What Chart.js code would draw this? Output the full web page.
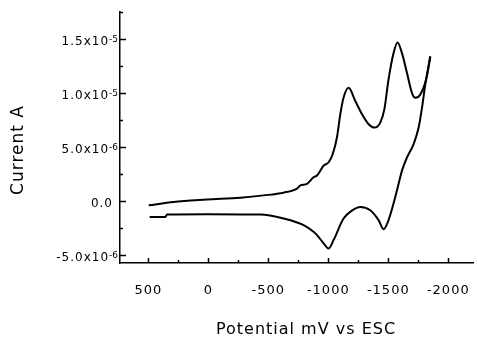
<!DOCTYPE html>
<html>
<head>
<meta charset="utf-8">
<script src="https://cdn.jsdelivr.net/npm/chart.js@4.4.1/dist/chart.umd.min.js"></script>
<style>
  html, body { margin: 0; padding: 0; background: #fff; }
</style>
</head>
<body>
<canvas id="cv" width="478" height="343"></canvas>
<script>
// Forward scan (upper branch): potential in mV, current in A
const forwardPotential = [497, 289, 11, -267, -461, -627, -739, -767, -822, -877, -906, -961, -1003, -1037, -1072, -1100, -1127, -1169, -1225, -1281, -1336, -1386, -1433, -1467, -1502, -1544, -1577, -1614, -1656, -1697, -1725, -1767, -1822, -1850];
const forwardCurrent = [-0.37e-6, -0.06e-6, 0.16e-6, 0.34e-6, 0.55e-6, 0.80e-6, 1.17e-6, 1.47e-6, 1.62e-6, 2.23e-6, 2.39e-6, 3.30e-6, 3.61e-6, 4.38e-6, 5.90e-6, 8.05e-6, 9.57e-6, 10.49e-6, 9.27e-6, 8.05e-6, 7.13e-6, 6.82e-6, 7.28e-6, 8.50e-6, 11.26e-6, 13.70e-6, 14.68e-6, 13.70e-6, 11.86e-6, 10.03e-6, 9.57e-6, 9.88e-6, 11.56e-6, 13.39e-6];

// Reverse scan (lower branch)
const reversePotential = [-1850, -1808, -1781, -1753, -1711, -1656, -1614, -1586, -1558, -1502, -1461, -1419, -1350, -1267, -1200, -1127, -1044, -1002, -961, -906, -877, -794, -627, -433, 11, 344, 358, 489];
const reverseCurrent = [13.39e-6, 10.80e-6, 8.65e-6, 6.82e-6, 5.29e-6, 4.06e-6, 2.84e-6, 1.62e-6, 0.39e-6, -1.74e-6, -2.57e-6, -1.74e-6, -0.83e-6, -0.52e-6, -0.83e-6, -1.59e-6, -3.58e-6, -4.36e-6, -3.88e-6, -3.12e-6, -2.82e-6, -2.20e-6, -1.59e-6, -1.22e-6, -1.19e-6, -1.22e-6, -1.44e-6, -1.44e-6];

// Axis ticks
const xTickValues = [500, 0, -500, -1000, -1500, -2000];
const yTickValues = [-5e-6, 0, 5e-6, 1e-5, 1.5e-5];
const yTickLabels = ['-5.0x10', '0.0', '5.0x10', '1.0x10', '1.5x10'];
const yTickExponents = ['-6', '', '-6', '-5', '-5'];

const xTitle = 'Potential mV vs ESC';
const yTitle = 'Current A';

const forwardPts = forwardPotential.map((v, i) => ({ x: v, y: forwardCurrent[i] }));
const reversePts = reversePotential.map((v, i) => ({ x: v, y: reverseCurrent[i] }));

function isMajorY(v) {
  return yTickValues.some(t => Math.abs(t - v) < 1e-9);
}

// Draws the inward tick marks, the y labels with exponents and the axis titles
const axisDecor = {
  id: 'axisDecor',
  beforeDraw(chart) {
    chart.ctx.letterSpacing = '1px';
  },
  afterDraw(chart) {
    const ctx = chart.ctx;
    const xs = chart.scales.x;
    const ys = chart.scales.y;
    const area = chart.chartArea;
    ctx.save();
    ctx.strokeStyle = '#000';
    ctx.lineWidth = 1.5;
    ctx.beginPath();
    xs.ticks.forEach(t => {
      const px = Math.round(xs.getPixelForValue(t.value)) + 0.5;
      const len = xTickValues.includes(t.value) ? 5 : 3;
      ctx.moveTo(px, area.bottom);
      ctx.lineTo(px, area.bottom - len);
    });
    ys.ticks.forEach(t => {
      const py = Math.round(ys.getPixelForValue(t.value)) + 0.5;
      const len = isMajorY(t.value) ? 6 : 3;
      ctx.moveTo(area.left, py);
      ctx.lineTo(area.left + len, py);
    });
    ctx.stroke();

    // y tick labels: mantissa plus raised exponent
    ctx.fillStyle = '#000';
    ctx.textBaseline = 'alphabetic';
    ctx.textAlign = 'right';
    yTickValues.forEach((v, i) => {
      const py = ys.getPixelForValue(v);
      let right = area.left - 2;
      if (yTickExponents[i]) {
        ctx.font = '9px "DejaVu Sans"';
        ctx.letterSpacing = '0px';
        ctx.fillText(yTickExponents[i], right, py + 3);
        right -= ctx.measureText(yTickExponents[i]).width + 1;
      } else {
        right = area.left - 8;
      }
      ctx.font = '12px "DejaVu Sans"';
      ctx.letterSpacing = '1px';
      ctx.fillText(yTickLabels[i], right + 1, py + 6);
    });

    ctx.textAlign = 'center';
    ctx.textBaseline = 'middle';
    ctx.letterSpacing = '1px';
    ctx.font = '16px "DejaVu Sans"';
    ctx.fillText(xTitle, 306, 330);
    ctx.translate(19, 150);
    ctx.rotate(-Math.PI / 2);
    ctx.font = '17px "DejaVu Sans"';
    ctx.fillText(yTitle, 0, 0);
    ctx.restore();
    ctx.letterSpacing = '0px';
  }
};

const lineStyle = {
  showLine: true,
  borderColor: '#000',
  borderWidth: 2,
  pointRadius: 0,
  tension: 0.4,
  cubicInterpolationMode: 'monotone',
  fill: false
};

new Chart(document.getElementById('cv'), {
  type: 'scatter',
  data: {
    datasets: [
      Object.assign({ data: forwardPts }, lineStyle),
      Object.assign({ data: reversePts }, lineStyle)
    ]
  },
  options: {
    responsive: false,
    animation: false,
    layout: { padding: { top: 12, right: 5, left: 0, bottom: 0 } },
    plugins: {
      legend: { display: false },
      tooltip: { enabled: false }
    },
    scales: {
      x: {
        type: 'linear',
        reverse: true,
        min: -2206,
        max: 736,
        grid: { display: false, drawTicks: false },
        border: { display: true, color: '#000', width: 1.5 },
        afterBuildTicks: scale => {
          const ticks = [];
          for (let v = -2000; v <= 500; v += 250) ticks.push({ value: v });
          scale.ticks = ticks;
        },
        afterFit: scale => { scale.height = 80; },
        ticks: {
          padding: 20,
          color: '#000',
          font: { family: 'DejaVu Sans', size: 13 },
          maxRotation: 0,
          autoSkip: false,
          callback: v => xTickValues.includes(v) ? String(v) : ''
        }
      },
      y: {
        type: 'linear',
        min: -5.7e-6,
        max: 1.75e-5,
        grid: { display: false, drawTicks: false },
        border: { display: true, color: '#000', width: 1.5 },
        afterBuildTicks: scale => {
          const ticks = [];
          for (let i = -2; i <= 7; i++) ticks.push({ value: i * 2.5e-6 });
          scale.ticks = ticks;
        },
        afterFit: scale => { scale.width = 120; },
        ticks: { display: false }
      }
    }
  },
  plugins: [axisDecor]
});
</script>
</body>
</html>
